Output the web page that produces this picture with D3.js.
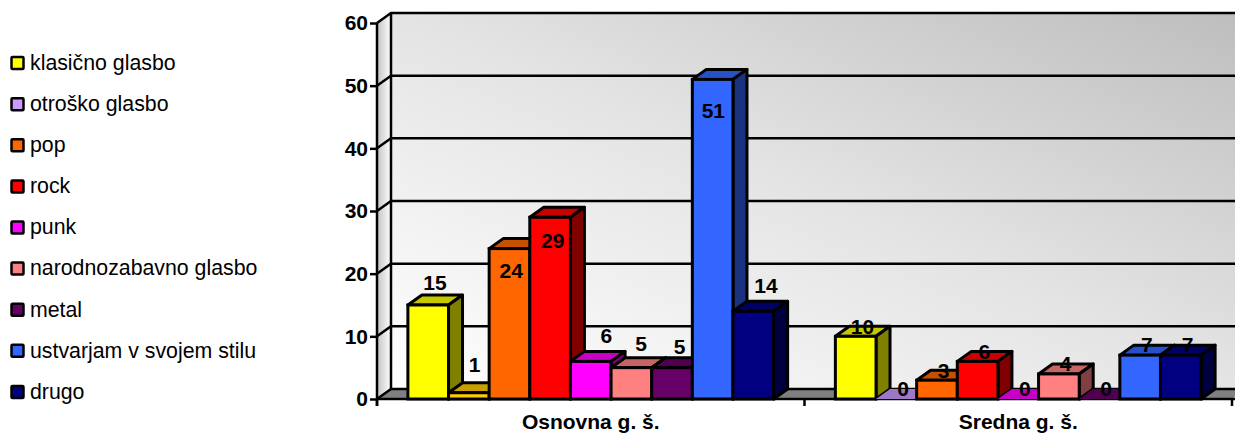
<!DOCTYPE html>
<html><head><meta charset="utf-8">
<script src="https://cdn.jsdelivr.net/npm/d3@7"></script>
<style>html,body{margin:0;padding:0;background:#fff;overflow:hidden}svg{display:block;font-family:"Liberation Sans",Arial,sans-serif}</style>
</head><body><div id="c"></div>
<script>
const categories = ["Osnovna g. š.", "Sredna g. š."];
const seriesNames = ["klasično glasbo","otroško glasbo","pop","rock","punk","narodnozabavno glasbo","metal","ustvarjam v svojem stilu","drugo"];
const seriesColors = ["#FFFF00","#CC99FF","#FF6600","#FF0000","#FF00FF","#FF8080","#660066","#3366FF","#000080"];
const osnovnaColors = ["#FFFF00","#FFCC00","#FF6600","#FF0000","#FF00FF","#FF8080","#660066","#3366FF","#000080"];
const osnovna = [15,1,24,29,6,5,5,51,14];
const srednja = [10,0,3,6,0,4,0,7,7];
const yTicks = [0,10,20,30,40,50,60];

const W=1235,H=434, dx=14, dy=-10;
const svg=d3.select("#c").append("svg").attr("width",W).attr("height",H);
const defs=svg.append("defs");
const wallG=defs.append("linearGradient").attr("id","wall").attr("x1","0").attr("y1","1").attr("x2","1").attr("y2","0");
wallG.append("stop").attr("offset","0").attr("stop-color","#ffffff");
wallG.append("stop").attr("offset","0.5").attr("stop-color","#e4e4e4");
wallG.append("stop").attr("offset","1").attr("stop-color","#bdbdbd");
const sideG=defs.append("linearGradient").attr("id","side").attr("x1","0").attr("y1","0").attr("x2","1").attr("y2","0");
sideG.append("stop").attr("offset","0").attr("stop-color","#c4c4c4");
sideG.append("stop").attr("offset","1").attr("stop-color","#ffffff");

const y=d3.scaleLinear().domain([0,60]).range([399,23]);
const x0=d3.scaleBand().domain(categories).range([377,1232]);
const x1=d3.scaleBand().domain(seriesNames).range([0,x0.bandwidth()]).paddingOuter(0.76).paddingInner(0);
const lw=2.5, barLw=3;
const poly=pts=>pts.map(p=>p.join(",")).join(" ");
const [xl,xr]=x0.range(), yb=y(0), yt=y(60);

svg.append("polygon").attr("points",poly([[xl+dx,yt+dy],[W+20,yt+dy],[W+20,yb+dy],[xl+dx,yb+dy]])).attr("fill","url(#wall)");
svg.append("polygon").attr("points",poly([[xl,yt],[xl+dx,yt+dy],[xl+dx,yb+dy],[xl,yb]])).attr("fill","url(#side)");
svg.append("polygon").attr("points",poly([[xl,yb],[xl+dx,yb+dy],[xr+dx,yb+dy],[xr,yb]])).attr("fill","#808080");

yTicks.forEach(t=>{
  svg.append("path").attr("fill","none").attr("stroke","#000").attr("stroke-width",lw)
    .attr("d",`M${xl},${y(t)}L${xl+dx},${y(t)+dy}L${W+20},${y(t)+dy}`);
});
svg.append("path").attr("fill","none").attr("stroke","#000").attr("stroke-width",lw)
  .attr("d",`M${xl+dx},${yt+dy}V${yb+dy}`);

const axisY=svg.append("g").attr("transform",`translate(${xl},0)`)
  .call(d3.axisLeft(y).tickValues(yTicks).tickSize(7).tickPadding(2));
axisY.select(".domain").attr("stroke-width",lw).attr("d",`M0,${yt}V${yb+7}`);
axisY.selectAll(".tick line").attr("stroke-width",lw);
axisY.selectAll("text").attr("font-family","'Liberation Sans',Arial,sans-serif").attr("font-size",21).attr("font-weight","bold").attr("fill","#000");

const g=svg.append("g").attr("transform",`translate(0,${yb})`);
g.append("path").attr("fill","none").attr("stroke","#000").attr("stroke-width",lw)
  .attr("d",`M${xl},0H${W+5}`);
[xl,xl+x0.bandwidth(),xr].forEach(v=>g.append("path").attr("stroke","#000").attr("stroke-width",lw).attr("d",`M${v},0V7`));
categories.forEach(c=>{
  svg.append("text").attr("x",x0(c)+x0.bandwidth()/2).attr("y",429).attr("text-anchor","middle")
    .attr("font-size",21).attr("font-weight","bold").attr("fill","#000").text(c);
});

const shade=(c,k)=>{const r=d3.rgb(c);return d3.rgb(r.r*k,r.g*k,r.b*k).formatHex();};
const bw=x1.bandwidth();
const valueSets=[osnovna,srednja];
const colorSets=[osnovnaColors,seriesColors];
categories.forEach((c,ci)=>{
  seriesNames.forEach((s,si)=>{
    const v=valueSets[ci][si], col=colorSets[ci][si];
    const bx=x0(c)+x1(s), tp=y(v);
    const G=svg.append("g");
    const st=v===0?{s:"none",w:0}:{s:"#000",w:barLw};
    G.append("polygon").attr("points",poly([[bx,tp],[bx+dx,tp+dy],[bx+bw+dx,tp+dy],[bx+bw,tp]]))
      .attr("fill",shade(col,0.78)).attr("stroke",st.s).attr("stroke-width",st.w).attr("stroke-linejoin","round");
    if(v>0){
      G.append("polygon").attr("points",poly([[bx+bw,tp],[bx+bw+dx,tp+dy],[bx+bw+dx,yb+dy],[bx+bw,yb]]))
        .attr("fill",shade(col,0.5)).attr("stroke",st.s).attr("stroke-width",st.w).attr("stroke-linejoin","round");
      G.append("rect").attr("x",bx).attr("y",tp).attr("width",bw).attr("height",yb-tp)
        .attr("fill",col).attr("stroke",st.s).attr("stroke-width",st.w);
    }
  });
});

const nudgeFirst=[[27,-22],[26,-28],[22,22],[23,23],[36,-26],[30,-24],[28,-21],[21,31],[33,-26]];
categories.forEach((c,ci)=>{
  seriesNames.forEach((s,si)=>{
    const v=valueSets[ci][si];
    const n=ci===0?nudgeFirst[si]:[27,-10];
    svg.append("text").attr("x",x0(c)+x1(s)+n[0]).attr("y",y(v)+n[1]).attr("dy","0.35em")
      .attr("text-anchor","middle").attr("font-size",21).attr("font-weight","bold").attr("fill","#000").text(v);
  });
});

const leg=d3.scaleBand().domain(seriesNames).range([42.5,412.5]);
seriesNames.forEach((s,i)=>{
  const cy=leg(s)+leg.bandwidth()/2;
  svg.append("rect").attr("x",11.5).attr("y",cy-6).attr("width",12).attr("height",12).attr("rx",1)
    .attr("fill",seriesColors[i]).attr("stroke","#000").attr("stroke-width",2.5);
  svg.append("text").attr("x",30).attr("y",cy).attr("dy","0.32em").attr("font-size",21.3).attr("fill","#000").text(s);
});
</script></body></html>
